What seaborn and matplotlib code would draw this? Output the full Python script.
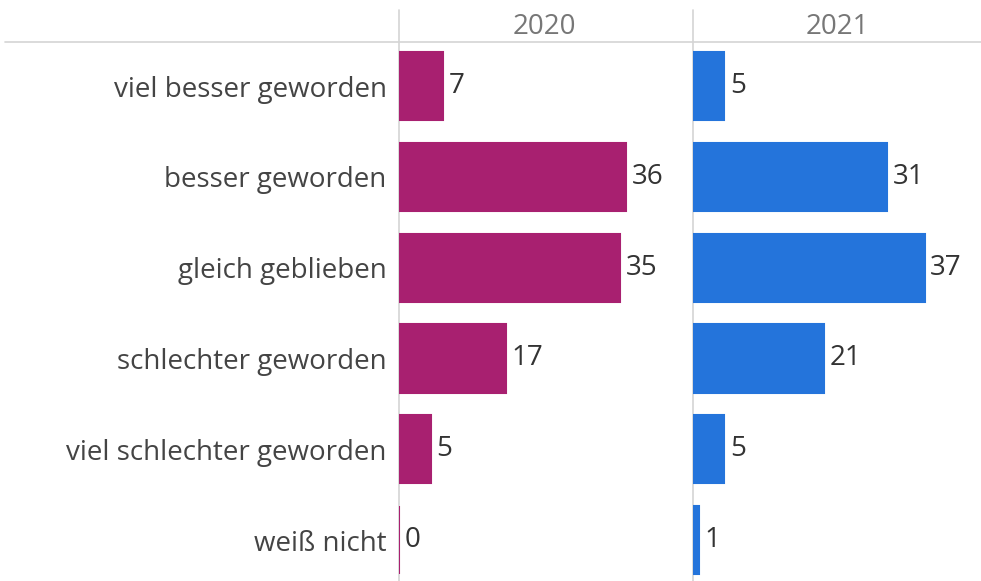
import pandas as pd
import matplotlib.pyplot as plt
import seaborn as sns
from matplotlib.lines import Line2D

kategorien = ['viel besser geworden', 'besser geworden', 'gleich geblieben',
              'schlechter geworden', 'viel schlechter geworden', 'weiß nicht']
werte_2020 = [7, 36, 35, 17, 5, 0]
werte_2021 = [5, 31, 37, 21, 5, 1]
jahre = ['2020', '2021']
farben = {'2020': '#A82070', '2021': '#2474DB'}

df = pd.DataFrame({
    'Kategorie': kategorien * 2,
    'Wert': werte_2020 + werte_2021,
    'Jahr': ['2020'] * len(kategorien) + ['2021'] * len(kategorien),
})

sns.set_style('white')
plt.rcParams['font.family'] = ['Open Sans', 'DejaVu Sans']

W, H = 981, 581
fs = 20
fig = plt.figure(figsize=(W / 100, H / 100), dpi=100)

top = 1 - 42 / H
panels = [(399, 689), (693, 981)]
for jahr, (x0, x1) in zip(jahre, panels):
    ax = fig.add_axes([x0 / W, 0, (x1 - x0) / W, top])
    ax.patch.set_visible(False)
    daten = df[df['Jahr'] == jahr]
    sns.barplot(data=daten, y='Kategorie', x='Wert', order=kategorien,
                color=farben[jahr], saturation=1, width=0.75,
                edgecolor=farben[jahr], linewidth=1.5, ax=ax)
    for i, v in enumerate(daten['Wert']):
        ax.text(v + 0.9, i, str(v), va='center', ha='left',
                fontsize=fs, color='#333333')
    ax.set_xlim(0, 46)
    ax.set_ylim(5.45, -0.485)
    ax.set_xlabel('')
    ax.set_ylabel('')
    ax.set_xticks([])
    for s in ax.spines.values():
        s.set_visible(False)
    if jahr == '2020':
        ax.tick_params(axis='y', length=0, pad=9, labelsize=fs, labelcolor='#444444')
    else:
        ax.set_yticks([])
    fig.text((x0 + x1) / 2 / W, 1 - 27 / H, jahr, ha='center', va='center',
             fontsize=fs, color='#777777')

linienfarbe = '#d4d4d4'
fig.add_artist(Line2D([5 / W, 1], [top, top], color=linienfarbe, lw=1.2, zorder=-1))
for x in (399, 693):
    fig.add_artist(Line2D([x / W, x / W], [0, 1 - 10 / H], color=linienfarbe,
                          lw=1.2, zorder=-1))

fig.savefig('out.png', dpi=100)
